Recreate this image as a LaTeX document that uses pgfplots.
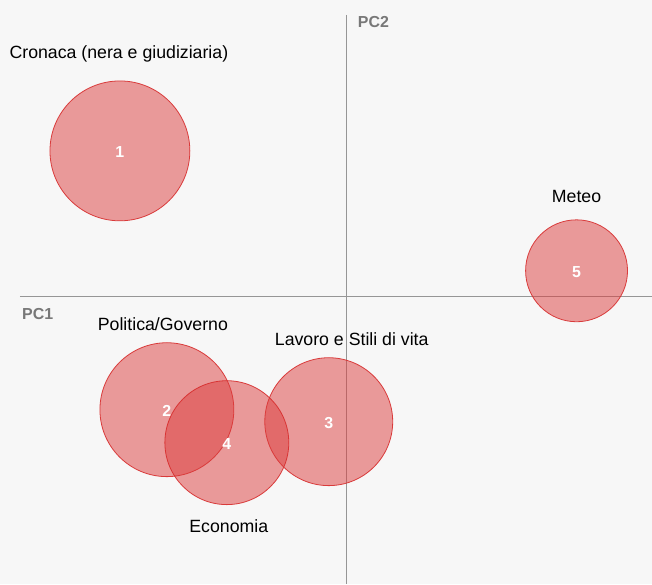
\documentclass[border=0pt]{standalone}
\usepackage{pgfplots}
\pgfplotsset{compat=1.18}
\usepackage{fontspec}
\setmainfont{Liberation Sans}
\definecolor{bg}{RGB}{247,247,247}
\definecolor{circfill}{RGB}{220,60,60}
\definecolor{circedge}{RGB}{215,45,45}
\definecolor{axgray}{RGB}{150,150,150}
\definecolor{pcgray}{RGB}{120,120,120}
\tikzset{lab/.style={font=\fontsize{17.8}{20}\selectfont},
  pclab/.style={font=\bfseries\fontsize{16}{18}\selectfont, text=pcgray, anchor=west, inner sep=0pt}}
\pgfplotsset{bubble/.style={only marks, mark=*,
    mark options={fill=circfill, fill opacity=0.5, draw=circedge, draw opacity=0.9, line width=0.8bp},
    mark size=#1bp,
    point meta=explicit symbolic,
    nodes near coords={\pgfplotspointmeta},
    nodes near coords align=center,
    every node near coord/.style={anchor=center, text=white, opacity=1, text opacity=1, fill opacity=1, draw opacity=1, font=\bfseries\fontsize{16}{18}\selectfont, yshift=-1bp}}}

\begin{document}
\begin{tikzpicture}
\fill[bg] (0,0) rectangle (652bp,584bp);
\begin{axis}[
  at={(0,0)}, anchor=south west,
  width=652bp, height=584bp, scale only axis,
  xmin=-3.47, xmax=3.05, ymin=-2.87, ymax=2.97,
  axis lines=none, clip=false,
]
\addplot[axgray, line width=1bp] coordinates {(-3.27,0) (3.05,0)};
\addplot[axgray, line width=1bp] coordinates {(0,2.82) (0,-2.87)};
\addplot[bubble=70] coordinates {(-2.27,1.46) [1]};
\addplot[bubble=67] coordinates {(-1.80,-1.13) [2]};
\addplot[bubble=64] coordinates {(-0.18,-1.25) [3]};
\addplot[bubble=62] coordinates {(-1.20,-1.46) [4]};
\addplot[bubble=51] coordinates {(2.30,0.26) [5]};
\node[lab] at (axis cs:-2.28,2.43) {Cronaca (nera e giudiziaria)};
\node[lab] at (axis cs:2.30,1.00) {Meteo};
\node[lab] at (axis cs:-1.84,-0.27) {Politica/Governo};
\node[lab] at (axis cs:0.05,-0.42) {Lavoro e Stili di vita};
\node[lab] at (axis cs:-1.18,-2.30) {Economia};
\node[pclab] at (axis cs:0.11,2.75) {PC2};
\node[pclab] at (axis cs:-3.25,-0.17) {PC1};
\end{axis}
\end{tikzpicture}
\end{document}
